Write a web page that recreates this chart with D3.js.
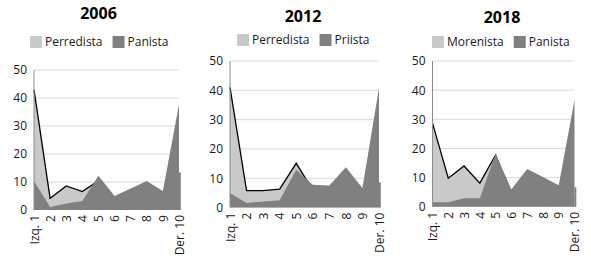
<!DOCTYPE html>
<html><head><meta charset="utf-8">
<script src="https://cdn.jsdelivr.net/npm/d3@7"></script>
<style>
html,body{margin:0;padding:0;background:#fff;}
svg{display:block;font-family:"Open Sans","Noto Sans",sans-serif;}
</style></head>
<body>
<svg id="c" width="591" height="261"></svg>
<script>
// ---- data ----
const categories = ["Izq. 1","2","3","4","5","6","7","8","9","Der. 10"];
const yTicks = [0,10,20,30,40,50];
const years = ["2006","2012","2018"];
const lightNames = ["Perredista","Perredista","Morenista"];
const darkNames = ["Panista","Priista","Panista"];
const light2006 = [43, 4.2, 8.6, 6.6, 10.5, 3, 4, 5, 4, 6];
const dark2006  = [10.4, 1.1, 2.3, 3.2, 12.2, 5, 7.7, 10.4, 6.8, 37.8];
const edge2006 = 13.4;
const light2012 = [41, 5.8, 5.8, 6.3, 15.1, 6, 4, 5, 4, 4];
const dark2012  = [5, 1.6, 2.1, 2.5, 12.9, 7.8, 7.5, 13.8, 6.7, 40.9];
const edge2012 = 8.6;
const light2018 = [28.7, 9.8, 14, 8.1, 17.8, 4, 5, 5, 4, 3];
const dark2018  = [1.6, 1.6, 2.9, 2.9, 18.2, 6, 13, 10.2, 7.4, 36.6];
const edge2018 = 6.7;

const lightSeries = [light2006, light2012, light2018];
const darkSeries = [dark2006, dark2012, dark2018];
const edges = [edge2006, edge2012, edge2018];

// ---- layout ----
const layout = [
  {x0:34,    x1:179,   yTop:70, yBot:210,   titleX:98.5, titleY:19, legX:30,  legY:42},
  {x0:230,   x1:379,   yTop:61, yBot:207.6, titleX:303,  titleY:22, legX:237, legY:40},
  {x0:432.5, x1:574.5, yTop:61, yBot:206.8, titleX:502,  titleY:23, legX:432, legY:42}
];
const LIGHT = "#c9c9c9", DARK = "#808080", GRID = "#d9d9d9";

const svg = d3.select("#c");

years.forEach((yr, i) => {
  const L = layout[i];
  const g = svg.append("g");
  const x = d3.scalePoint().domain(categories).range([L.x0, L.x1]);
  const y = d3.scaleLinear().domain([0, 50]).range([L.yBot, L.yTop]);

  // gridlines
  g.selectAll(".grid").data(yTicks.filter(t => t > 0)).join("line")
    .attr("x1", L.x0).attr("x2", L.x1)
    .attr("y1", d => y(d)).attr("y2", d => y(d))
    .attr("stroke", GRID).attr("stroke-width", 1);

  const lightData = lightSeries[i].map((v, k) => ({c: categories[k], v}));
  const darkData = darkSeries[i].map((v, k) => ({c: categories[k], v}));

  const area = d3.area().x(d => x(d.c)).y0(y(0)).y1(d => y(d.v));
  const line = d3.line().x(d => x(d.c)).y(d => y(d.v));

  g.append("path").datum(lightData).attr("d", area).attr("fill", LIGHT);
  g.append("path").datum(lightData).attr("d", line).attr("fill", "none")
    .attr("stroke", "#000").attr("stroke-width", 1.3).attr("stroke-linejoin", "miter");
  g.append("path").datum(darkData).attr("d", area).attr("fill", DARK);
  // right edge sliver
  g.append("rect").attr("x", x(categories[categories.length-1]))
    .attr("width", 1.8).attr("y", y(edges[i])).attr("height", y(0) - y(edges[i]))
    .attr("fill", DARK);

  // y axis line
  g.append("line").attr("x1", L.x0).attr("x2", L.x0).attr("y1", y(50)).attr("y2", y(0))
    .attr("stroke", "#8c8c8c").attr("stroke-width", 1);

  // y axis labels
  const ya = g.append("g").attr("transform", `translate(${L.x0},0)`)
    .call(d3.axisLeft(y).tickValues(yTicks).tickSize(0).tickPadding(7));
  ya.select(".domain").remove();
  ya.selectAll("text").attr("font-size", 12).attr("fill", "#1a1a1a")
    .attr("font-family", "'Open Sans','Noto Sans',sans-serif");

  // x axis labels
  const xa = g.append("g").attr("transform", `translate(0,${y(0)})`)
    .call(d3.axisBottom(x).tickSize(0).tickPadding(0));
  xa.select(".domain").remove();
  xa.selectAll("text")
    .attr("font-size", 12).attr("fill", "#1a1a1a")
    .attr("font-family", "'Open Sans','Noto Sans',sans-serif")
    .attr("text-anchor", "end")
    .attr("transform", "rotate(-90)")
    .attr("x", -5).attr("y", 0).attr("dy", "0.35em");

  // title
  svg.append("text").attr("x", L.titleX).attr("y", L.titleY)
    .attr("text-anchor", "middle").attr("font-weight", "bold").attr("font-size", 16)
    .attr("fill", "#000").text(yr);

  // legend
  const lg = svg.append("g").attr("transform", `translate(${L.legX},${L.legY})`);
  lg.append("rect").attr("x", 0).attr("y", -6).attr("width", 12).attr("height", 12).attr("fill", LIGHT);
  const t1 = lg.append("text").attr("x", 15).attr("y", 0).attr("dy", "0.35em")
    .attr("font-size", 12).attr("fill", "#1a1a1a").text(lightNames[i]);
  const w1 = t1.node().getComputedTextLength();
  const x2 = 15 + w1 + 10;
  lg.append("rect").attr("x", x2).attr("y", -6).attr("width", 12).attr("height", 12).attr("fill", DARK);
  lg.append("text").attr("x", x2 + 15).attr("y", 0).attr("dy", "0.35em")
    .attr("font-size", 12).attr("fill", "#1a1a1a").text(darkNames[i]);
});
</script>
</body></html>
